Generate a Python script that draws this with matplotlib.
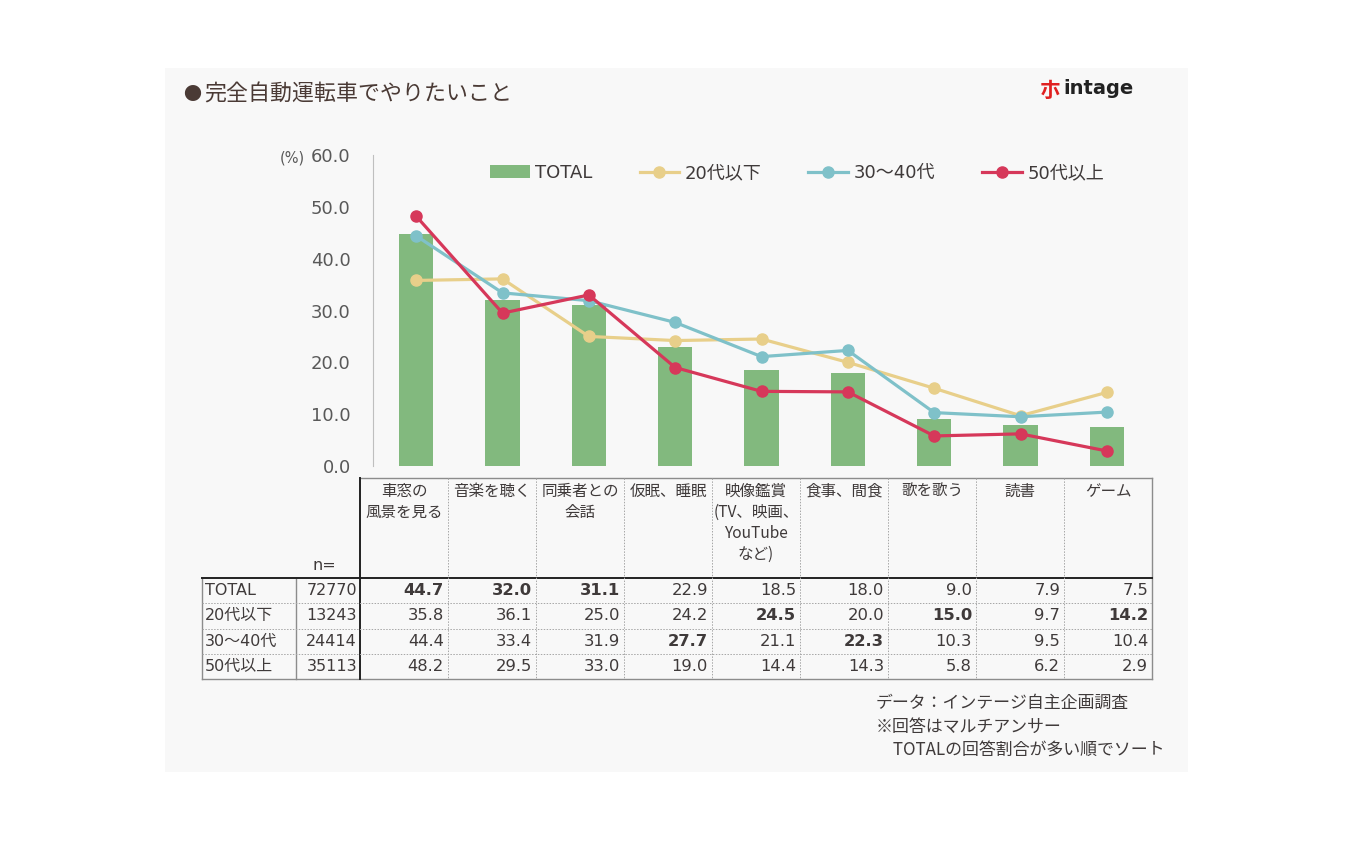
import matplotlib
matplotlib.use("Agg")
import matplotlib.pyplot as plt
from matplotlib.patches import Rectangle
import numpy as np

plt.rcParams['font.family'] = ['DejaVu Sans', 'Noto Sans CJK JP']

# ---- data ----
categories = ["車窓の\n風景を見る", "音楽を聴く", "同乗者との\n会話", "仮眠、睡眠",
              "映像鑑賞\n(TV、映画、\nYouTube\nなど)", "食事、間食", "歌を歌う", "読書", "ゲーム"]
groups = ["TOTAL", "20代以下", "30〜40代", "50代以上"]
n_sizes = [72770, 13243, 24414, 35113]
total = [44.7, 32.0, 31.1, 22.9, 18.5, 18.0, 9.0, 7.9, 7.5]
age20 = [35.8, 36.1, 25.0, 24.2, 24.5, 20.0, 15.0, 9.7, 14.2]
age3040 = [44.4, 33.4, 31.9, 27.7, 21.1, 22.3, 10.3, 9.5, 10.4]
age50 = [48.2, 29.5, 33.0, 19.0, 14.4, 14.3, 5.8, 6.2, 2.9]
bold_cells = [[0, 1, 2], [4, 6, 8], [3, 5], []]

text_col = '#3f3a3a'
tick_col = '#595959'
bar_col = '#82b97e'
line_cols = ['#e8cf8a', '#7fc1c9', '#d6385a']

W, H = 1350, 844
fig = plt.figure(figsize=(13.5, 8.44), dpi=100)
fig.patch.set_facecolor('white')
fig.patches.append(Rectangle((165 / W, 1 - 772 / H), (1188 - 165) / W, (772 - 68) / H,
                             transform=fig.transFigure, facecolor='#f8f8f8',
                             edgecolor='none', zorder=-5))

# ---- chart ----
ax = fig.add_axes([373 / W, 1 - 466 / H, (1150 - 373) / W, (466 - 155) / H])
ax.set_facecolor('none')
x = np.arange(len(categories))
handles = [ax.bar(x, total, width=0.4, color=bar_col, label='TOTAL', zorder=2)]
for vals, c, lab in zip([age20, age3040, age50], line_cols, groups[1:]):
    handles += ax.plot(x, vals, color=c, lw=2.3, marker='o', ms=8, label=lab, zorder=3)
ax.set_xlim(-0.5, len(categories) - 0.5)
ax.set_ylim(0, 60)
ax.set_yticks(np.arange(0, 61, 10))
ax.set_yticklabels([f"{v:.1f}" for v in np.arange(0, 61, 10)])
ax.tick_params(axis='y', length=0, labelsize=13, labelcolor=tick_col, pad=16)
ax.set_xticks([])
for s in ['top', 'right', 'bottom']:
    ax.spines[s].set_visible(False)
ax.spines['left'].set_color('#bfbfbf')
ax.legend(handles=handles, labels=groups, loc='center',
          bbox_to_anchor=((797 - 373) / 777, 1 - 18 / 311), ncol=4,
          frameon=False, fontsize=13, handlelength=2.2, columnspacing=2.6,
          handletextpad=0.3, labelcolor=text_col)
fig.text(292 / W, 1 - 158 / H, "(%)", fontsize=10.5, color=tick_col, ha='center', va='center')

# ---- title / logo ----
fig.text(183 / W, 1 - 95 / H, "●", fontsize=13, color='#4a3a35',
         family=['Noto Sans CJK JP'], va='center')
fig.text(204 / W, 1 - 95 / H, "完全自動運転車でやりたいこと", fontsize=15.8, color='#4a3a35',
         family=['Noto Sans CJK JP'], va='center')
fig.text(1040 / W, 1 - 90 / H, "朩", fontsize=15, color='#e02020', fontweight='bold',
         family=['Noto Sans CJK JP'], va='center')
fig.text(1063 / W, 1 - 89 / H, "intage", fontsize=14, color='#222222', fontweight='bold',
         va='center')

# ---- table ----
tx0, tx1, ty0, ty1 = 202, 1152, 478, 679
tab = fig.add_axes([tx0 / W, 1 - ty1 / H, (tx1 - tx0) / W, (ty1 - ty0) / H])
tab.set_xlim(0, tx1 - tx0)
tab.set_ylim(ty1 - ty0, 0)
tab.axis('off')
lab_w, n_w, col_w, head_h, row_h = 94, 64, 88, 100, 25.25
data_x0 = lab_w + n_w
tw = tx1 - tx0
th = ty1 - ty0
grid_col = '#8c8c8c'
lkw = dict(color=grid_col, lw=1.0, clip_on=False)
tab.plot([data_x0, tw], [0, 0], **lkw)
tab.plot([tw, tw], [0, th], **lkw)
tab.plot([0, tw], [th, th], **lkw)
tab.plot([0, 0], [head_h, th], **lkw)
tab.plot([lab_w, lab_w], [head_h, th], **lkw)
tab.plot([0, tw], [head_h, head_h], color='#222222', lw=1.4, clip_on=False)
tab.plot([data_x0, data_x0], [0, th], color='#222222', lw=1.4, clip_on=False)
dkw = dict(color='#a6a6a6', lw=0.7, ls=(0, (1.5, 1.5)), clip_on=False)
for i in range(1, len(categories)):
    xc = data_x0 + col_w * i
    tab.plot([xc, xc], [0, th], **dkw)
for r in range(1, len(groups)):
    yc = head_h + row_h * r
    tab.plot([0, tw], [yc, yc], **dkw)

for i, cat in enumerate(categories):
    tab.text(data_x0 + col_w * (i + 0.5), 5, cat, ha='center', va='top', fontsize=11.2,
             color=text_col, family=['Noto Sans CJK JP'], linespacing=1.3)
tab.text(111, 88, "n=", fontsize=11.5, color=text_col, va='center')

rows = [total, age20, age3040, age50]
for r, (g, n, vals) in enumerate(zip(groups, n_sizes, rows)):
    yc = head_h + row_h * (r + 0.5)
    tab.text(3, yc, g, fontsize=11.5, color=text_col, va='center')
    tab.text(data_x0 - 3, yc, str(n), fontsize=11.5, color=text_col, va='center', ha='right')
    for i, v in enumerate(vals):
        tab.text(data_x0 + col_w * (i + 1) - 4, yc, f"{v:.1f}", fontsize=11.8, color=text_col,
                 va='center', ha='right',
                 fontweight='bold' if i in bold_cells[r] else 'normal')

# ---- notes ----
notes = ["データ：インテージ自主企画調査", "※回答はマルチアンサー", "　TOTALの回答割合が多い順でソート"]
for k, t in enumerate(notes):
    fig.text(876 / W, 1 - (703 + 23.5 * k) / H, t, fontsize=12.2, color=text_col,
             family=['Noto Sans CJK JP'], va='center')

fig.savefig("out.png", dpi=100)
